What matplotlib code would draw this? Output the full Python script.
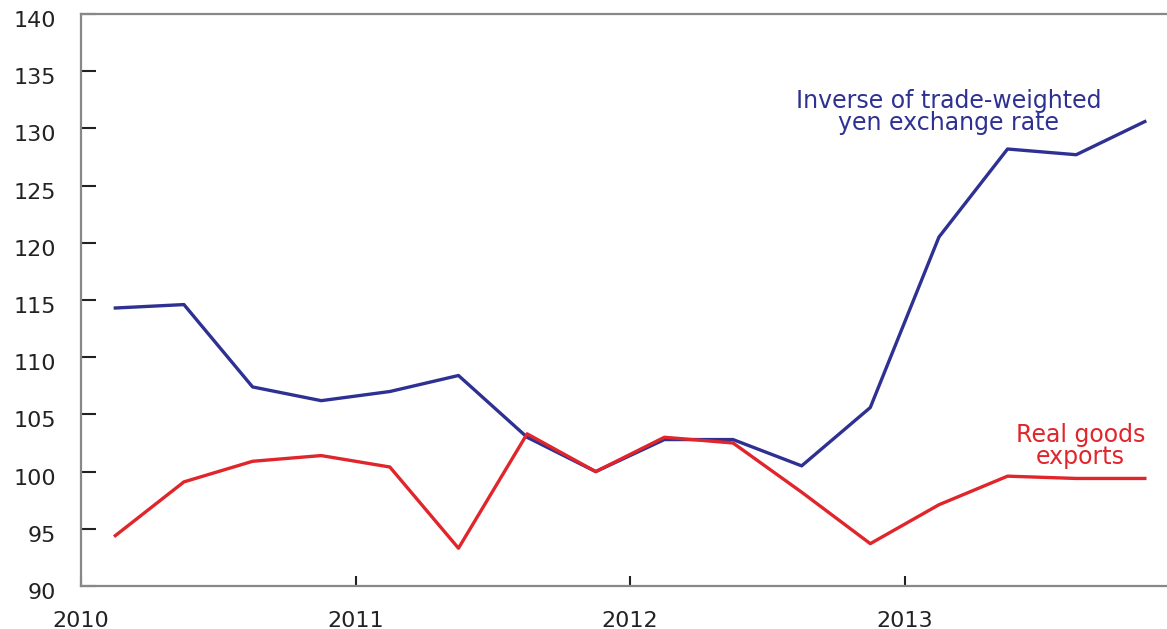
import matplotlib
matplotlib.use("Agg")
import matplotlib.pyplot as plt
from matplotlib.transforms import ScaledTranslation

plt.rcParams['font.family'] = ['DejaVu Sans']

# квартальные точки 2010 Q1 .. 2013 Q4
years = [2010, 2011, 2012, 2013]
quarters = [1, 2, 3, 4]
yen_inverse = [114.3, 114.6, 107.4, 106.2, 107.0, 108.4, 103.0, 100.0,
               102.8, 102.8, 100.5, 105.6, 120.5, 128.2, 127.7, 130.6]
real_exports = [94.4, 99.1, 100.9, 101.4, 100.4, 93.3, 103.3, 100.0,
                103.0, 102.5, 98.2, 93.7, 97.1, 99.6, 99.4, 99.4]
yticks = list(range(90, 141, 5))

x = [y + (q - 0.5) / 4 for y in years for q in quarters]

fig = plt.figure(figsize=(11.67, 6.29), dpi=100)
ax = fig.add_axes([0.0694, 0.0684, 0.941, 0.9093])

blue = "#2e3192"
red = "#e0252b"
ax.plot(x, yen_inverse, color=blue, linewidth=2.4)
ax.plot(x, real_exports, color=red, linewidth=2.4)

ax.set_xlim(2010, 2014)
ax.set_ylim(90, 140)
ax.set_yticks(yticks)
ax.set_xticks(years)
ax.set_xticklabels([str(y) for y in years])

for s in ax.spines.values():
    s.set_color("#888888")
    s.set_linewidth(1.6)

ax.tick_params(axis="y", direction="in", length=11, width=1.5, color="#222222",
               labelsize=16, pad=18)
ax.tick_params(axis="x", direction="in", length=7, width=1.5, color="#222222",
               labelsize=16, pad=18)
shift = ScaledTranslation(0, -5 / 100, fig.dpi_scale_trans)
for lab in ax.get_yticklabels():
    lab.set_color("#222222")
    lab.set_transform(lab.get_transform() + shift)
for lab in ax.get_xticklabels():
    lab.set_color("#222222")

ax.text(2013.16, 131.4, "Inverse of trade-weighted\nyen exchange rate",
        color=blue, fontsize=17, ha="center", va="center", linespacing=0.9)
ax.text(2013.64, 102.2, "Real goods\nexports",
        color=red, fontsize=17, ha="center", va="center", linespacing=0.9)

fig.savefig("out.png", dpi=100)
